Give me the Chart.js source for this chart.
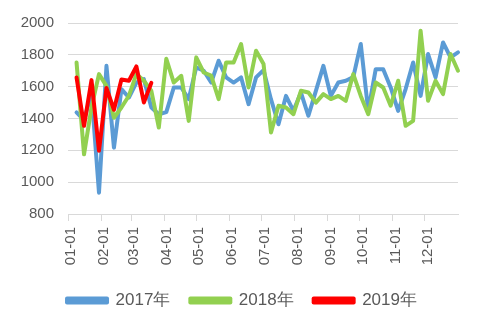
<!DOCTYPE html>
<html>
<head>
<meta charset="utf-8">
<script src="https://cdn.jsdelivr.net/npm/chart.js@4"></script>
<style>
html,body{margin:0;padding:0;background:#fff;}
#wrap{width:480px;height:330px;}
</style>
</head>
<body>
<div id="wrap"><canvas id="c" width="480" height="330"></canvas></div>
<script>
const monthLabels = ['01-01','02-01','03-01','04-01','05-01','06-01','07-01','08-01','09-01','10-01','11-01','12-01'];
const monthStartDays = [0,31,59,90,120,151,181,212,243,273,304,334];
const firstWeekDay = 8;
const weekStep = 7;
const seriesNames = ['2017年','2018年','2019年'];
const values2017 = [1438,1390,1560,934,1731,1217,1584,1532,1626,1647,1469,1427,1440,1595,1595,1522,1721,1700,1626,1763,1658,1626,1658,1490,1658,1704,1520,1364,1542,1448,1563,1417,1574,1731,1542,1626,1637,1660,1868,1448,1710,1710,1595,1448,1585,1752,1542,1805,1658,1878,1784,1815];
const values2018 = [1752,1175,1470,1679,1605,1405,1469,1543,1679,1637,1574,1343,1775,1626,1668,1385,1784,1689,1670,1522,1752,1752,1868,1595,1826,1742,1312,1480,1469,1427,1574,1563,1500,1553,1522,1542,1511,1679,1542,1427,1626,1595,1480,1637,1354,1385,1952,1511,1637,1553,1805,1700];
const values2019 = [1658,1354,1641,1197,1591,1455,1645,1637,1727,1501,1624];
const yTicks = [800,1000,1200,1400,1600,1800,2000];

function toPoints(vals){ return vals.map((v,i)=>({x: firstWeekDay + i*weekStep, y: v})); }
const colors = ['#5B9BD5','#92D050','#FF0000'];
const txt = '#595959';
const fam = "'Liberation Sans', Arial, sans-serif";
const font = {family: fam, size: 15};

const ds = [values2017, values2018, values2019].map((vals,k)=>({
  label: seriesNames[k],
  data: toPoints(vals),
  borderColor: colors[k],
  backgroundColor: colors[k],
  borderWidth: 4,
  pointRadius: 0,
  tension: 0,
  borderJoinStyle: 'round',
  borderCapStyle: 'round',
  order: 3-k,
  clip: 4
}));

const shiftLegend = {
  id: 'shiftLegend',
  afterLayout(chart) {
    const l = chart.legend;
    if (l) { l.left += 13; l.right += 13; }
  }
};

new Chart(document.getElementById('c'), {
  type: 'line',
  data: {datasets: ds},
  plugins: [shiftLegend],
  options: {
    responsive: false,
    animation: false,
    devicePixelRatio: 1,
    layout: {padding: {left: 0, right: 22, top: 14, bottom: 11}},
    plugins: {
      tooltip: {enabled: false},
      legend: {
        position: 'bottom',
        labels: {
          color: txt, font: {family: fam, size: 17}, boxWidth: 40, boxHeight: 4, padding: 20,
          sort: (a,b)=>a.datasetIndex-b.datasetIndex
        }
      }
    },
    scales: {
      x: {
        type: 'linear', min: 0, max: 365,
        afterBuildTicks: s => { s.ticks = monthStartDays.map(v=>({value:v})); },
        afterFit: s => { s.height = 58; },
        ticks: {
          color: txt, font: font, minRotation: 90, maxRotation: 90, padding: 6, autoSkip: false, labelOffset: 3,
          callback: (v) => { const i = monthStartDays.indexOf(v); return i>=0 ? monthLabels[i] : ''; }
        },
        grid: {drawOnChartArea: false, drawTicks: true, tickLength: 7, color: '#D9D9D9'},
        border: {color: '#D9D9D9', width: 1}
      },
      y: {
        min: 800, max: 2000,
        afterBuildTicks: s => { s.ticks = yTicks.map(v=>({value:v})); },
        afterFit: s => { s.width = 68; },
        ticks: {color: txt, font: font, padding: 14, callback: v => String(v)},
        grid: {color: '#D9D9D9', drawTicks: false},
        border: {display: false}
      }
    }
  }
});
</script>
</body>
</html>
